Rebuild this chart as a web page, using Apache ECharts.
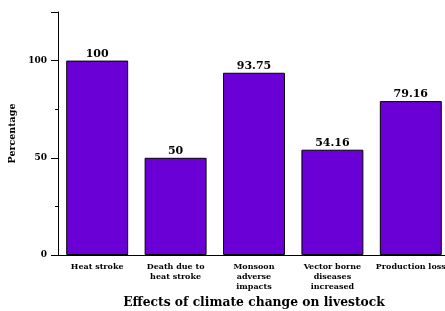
<!DOCTYPE html>
<html><head><meta charset="utf-8">
<script src="https://cdn.jsdelivr.net/npm/echarts@6/dist/echarts.min.js"></script>
<style>html,body{margin:0;padding:0;background:#fff}#c{width:445px;height:311px}</style>
</head><body><div id="c"></div>
<script>
const categories = ["Heat stroke", "Death due to\nheat stroke", "Monsoon\nadverse\nimpacts", "Vector borne\ndiseases\nincreased", "Production loss"];
const values = [100, 50, 93.75, 54.16, 79.16];
const valueLabels = ["100", "50", "93.75", "54.16", "79.16"];
const xTitle = "Effects of climate change on livestock";
const yTitle = "Percentage";

const font = "'DejaVu Serif', serif";
const chart = echarts.init(document.getElementById('c'), null, {renderer: 'canvas'});
chart.setOption({
  animation: false,
  grid: {left: 58, width: 392, top: 12, bottom: 56, outerBoundsMode: 'none', containLabel: false},
  xAxis: {
    type: 'category', data: categories,
    axisLine: {lineStyle: {color: '#000', width: 1}},
    axisTick: {alignWithLabel: true, length: 4, lineStyle: {color: '#000'}},
    axisLabel: {fontFamily: font, fontWeight: 'bold', fontSize: 8, color: '#000', lineHeight: 10, margin: 7, interval: 0},
    name: xTitle, nameLocation: 'middle', nameGap: 39,
    nameTextStyle: {fontFamily: font, fontWeight: 'bold', fontSize: 12.3, color: '#000'}
  },
  yAxis: [{
    type: 'value', min: 0, max: 125, interval: 25,
    axisLine: {show: true, lineStyle: {color: '#000'}},
    axisTick: {show: true, length: 3, lineStyle: {color: '#000'}},
    splitLine: {show: false},
    axisLabel: {fontFamily: font, fontWeight: 'bold', fontSize: 9, color: '#000', margin: 11,
      formatter: v => (v % 50 === 0 && v <= 100) ? String(v) : ''},
    name: yTitle, nameLocation: 'middle', nameGap: 32, nameRotate: 90,
    nameTextStyle: {fontFamily: font, fontWeight: 'bold', fontSize: 9.5, color: '#000'}
  }, {
    type: 'value', min: 0, max: 125, interval: 50, position: 'left',
    axisLine: {show: false},
    axisTick: {show: true, length: 7, lineStyle: {color: '#000'}},
    axisLabel: {show: false}, splitLine: {show: false}
  }],
  series: [{
    type: 'bar', data: values, yAxisIndex: 0, barCategoryGap: '21%',
    itemStyle: {color: '#6a00d6', borderColor: '#000', borderWidth: 1},
    label: {show: true, position: 'top', distance: 1,
      formatter: p => valueLabels[p.dataIndex],
      fontFamily: font, fontWeight: 'bold', fontSize: 11, color: '#000'}
  }]
});
</script></body></html>
